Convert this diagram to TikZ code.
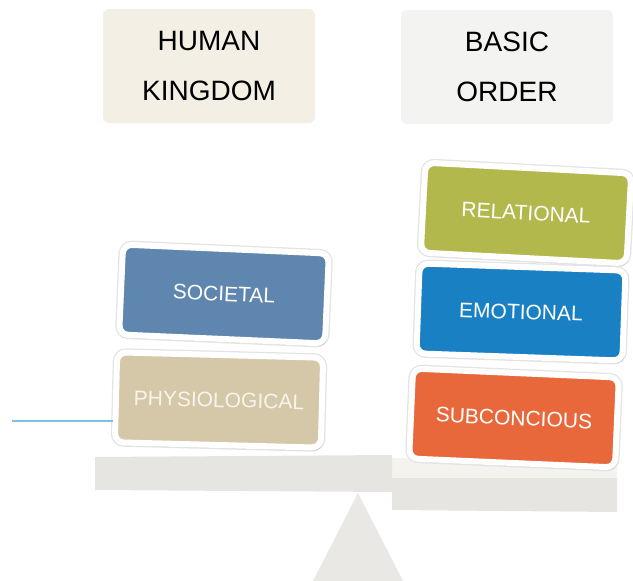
\documentclass[tikz,border=0pt]{standalone}
\usepackage{fontspec}
\setmainfont{Liberation Sans}
\usetikzlibrary{shadows}

\definecolor{headbeige}{HTML}{F3EFE5}
\definecolor{headgrey}{HTML}{F3F3F2}
\definecolor{societal}{HTML}{5F86AE}
\definecolor{physio}{HTML}{D5C8A8}
\definecolor{relational}{HTML}{B3B84D}
\definecolor{emotional}{HTML}{1A80C4}
\definecolor{subconc}{HTML}{E9683B}
\definecolor{beam}{HTML}{E6E5E2}
\definecolor{beamtop}{HTML}{F5F3EE}
\definecolor{pivot}{HTML}{E9E8E5}
\definecolor{stub}{HTML}{7CC0E3}

\begin{document}
\begin{tikzpicture}[x=1pt,y=-1pt,
  headbox/.style={fill=#1, rounded corners=6pt, minimum width=212pt, minimum height=114pt,
    align=center, font=\fontsize{28}{50}\selectfont},
  block/.style={fill=#1, draw=white, line width=6pt, rounded corners=9pt,
    minimum width=206pt, minimum height=90pt, text=white, font=\fontsize{21}{25}\selectfont,
    preaction={draw=black!11, line width=8.5pt},
    drop shadow={shadow xshift=2pt, shadow yshift=-3pt, opacity=0.3}}]

\useasboundingbox (0,0) rectangle (633,581);

% headers
\node[headbox=headbeige] (human) at (209,66) {HUMAN\\KINGDOM};
\node[headbox=headgrey] (basic) at (507,67) {BASIC\\ORDER};

% pivot and beam
\fill[pivot] (358,493) -- (403,581) -- (313,581) -- cycle;
\fill[beamtop] (392,458) -- (617,460) -- (617,480) -- (392,478) -- cycle;
\fill[beam] (95,457) -- (392,455) -- (392,478) -- (617,478) -- (617,512) -- (392,510) -- (392,492) -- (95,490) -- cycle;

% left pan
\node[block=physio, text=physio!20!white, rotate=-1.5] (physio) at (219,400) {PHYSIOLOGICAL};
\node[block=societal, rotate=-2.5] (societal) at (224,294) {SOCIETAL};

% right pan
\foreach \name/\txt/\y/\ang/\x in {subconc/SUBCONCIOUS/418/-2.5/514, emotional/EMOTIONAL/312/-2/521, relational/RELATIONAL/213/-3/526}
  \node[block=\name, rotate=\ang] (\name) at (\x,\y) {\txt};

\coordinate (stubend) at (12,421);
\draw[stub, line width=1.2pt] (stubend) -- (stubend -| physio.west);

\end{tikzpicture}
\end{document}
